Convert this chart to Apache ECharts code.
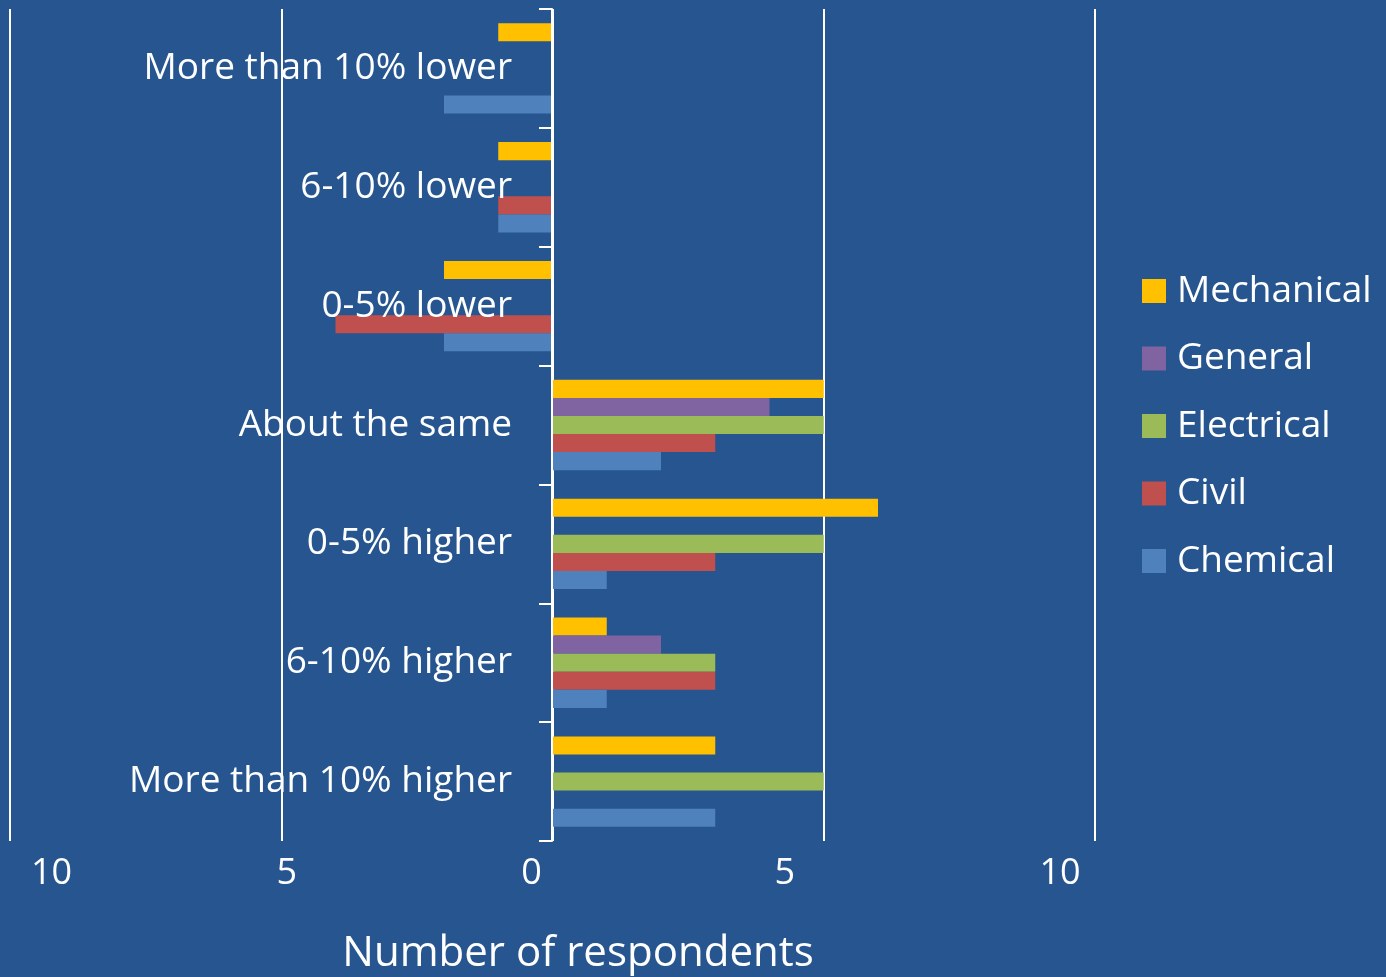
<!DOCTYPE html>
<html>
<head>
<meta charset="utf-8">
<title>Number of respondents</title>
<script src="https://cdn.jsdelivr.net/npm/echarts@6/dist/echarts.min.js"></script>
<style>
  html, body { margin: 0; padding: 0; background: #26558f; }
  #chart { width: 1386px; height: 977px; }
</style>
</head>
<body>
<div id="chart"></div>
<script>
// categories, top to bottom
const categories = [
  'More than 10% lower',
  '6-10% lower',
  '0-5% lower',
  'About the same',
  '0-5% higher',
  '6-10% higher',
  'More than 10% higher'
]

// respondents per category (lower answers drawn to the left)
const mechanical = [-1, -1, -2, 5, 6, 1, 3]
const general = [0, 0, 0, 4, 0, 2, 0]
const electrical = [0, 0, 0, 5, 5, 3, 5]
const civil = [0, -1, -4, 3, 3, 3, 0]
const chemical = [-2, -1, -2, 2, 1, 1, 3]

const seriesNames = ['Mechanical', 'General', 'Electrical', 'Civil', 'Chemical']
const seriesData = [mechanical, general, electrical, civil, chemical]
const colors = ['#ffc000', '#8064a2', '#9bbb59', '#c0504d', '#4f81bd']

const font = 'Open Sans'

// the tick labels sit a bit off their grid lines in the original
const tickRich = {
  m10: { color: '#fff', fontSize: 36, fontFamily: font, padding: [0, 0, 0, 83] },
  m5: { color: '#fff', fontSize: 36, fontFamily: font, padding: [0, 0, 0, 11] },
  z0: { color: '#fff', fontSize: 36, fontFamily: font, padding: [0, 42, 0, 0] },
  p5: { color: '#fff', fontSize: 36, fontFamily: font, padding: [0, 78, 0, 0] },
  p10: { color: '#fff', fontSize: 36, fontFamily: font, padding: [0, 70, 0, 0] }
}
const tickStyle = { '-10': 'm10', '-5': 'm5', '0': 'z0', '5': 'p5', '10': 'p10' }

const chart = echarts.init(document.getElementById('chart'))

chart.setOption({
  backgroundColor: '#26558f',
  animation: false,
  color: colors,
  textStyle: { fontFamily: font },
  legend: {
    orient: 'vertical',
    left: 1142,
    top: 272,
    padding: 0,
    icon: 'rect',
    itemWidth: 24,
    itemHeight: 24,
    itemGap: 29.5,
    textStyle: { color: '#fff', fontSize: 37, fontFamily: font, lineHeight: 38, padding: [0, 0, 0, 6] },
    data: seriesNames
  },
  grid: {
    left: 10,
    right: 291,
    top: 9,
    bottom: 136,
    containLabel: false,
    outerBoundsMode: 'none'
  },
  xAxis: {
    type: 'value',
    min: -10,
    max: 10,
    interval: 5,
    name: 'Number of respondents',
    nameLocation: 'middle',
    nameGap: 92,
    nameTextStyle: { color: '#fff', fontSize: 42, fontFamily: font, padding: [0, 0, 0, 51] },
    axisLine: { show: false },
    axisTick: { show: false },
    splitLine: { lineStyle: { color: '#fff', width: 2 } },
    axisLabel: {
      margin: 15,
      formatter: v => '{' + tickStyle[String(v)] + '|' + Math.abs(v) + '}',
      rich: tickRich
    }
  },
  yAxis: {
    type: 'category',
    inverse: true,
    data: categories,
    position: 'left',
    // category axis sits on the zero line of the value axis, labels over the bars
    offset: -542,
    z: 3,
    axisLine: { onZero: false, lineStyle: { color: '#fff', width: 2 } },
    axisTick: { show: true, length: 13, lineStyle: { color: '#fff', width: 2 } },
    axisLabel: { show: true, color: '#fff', fontSize: 37, fontFamily: font, margin: 40 }
  },
  series: seriesNames.map((name, i) => ({
    name: name,
    type: 'bar',
    data: seriesData[i],
    barGap: '0%',
    barCategoryGap: '24%'
  }))
})
</script>
</body>
</html>
